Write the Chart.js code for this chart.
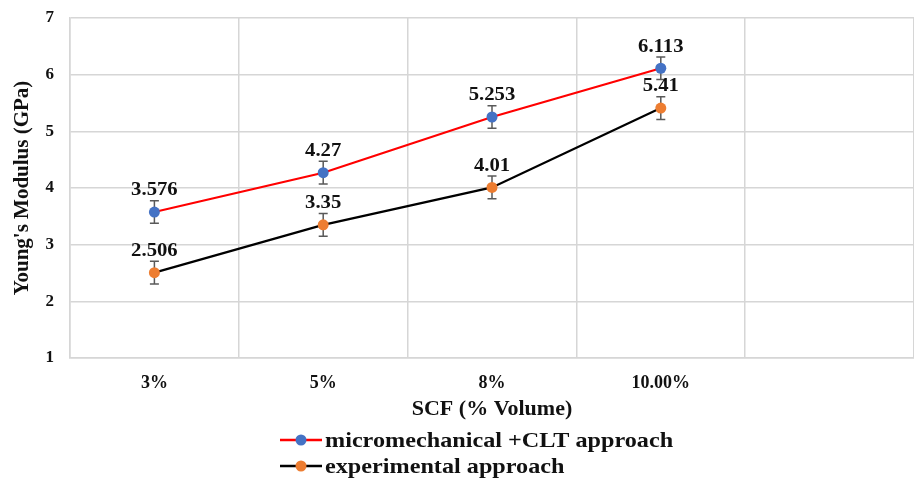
<!DOCTYPE html>
<html>
<head>
<meta charset="utf-8">
<script src="https://cdn.jsdelivr.net/npm/chart.js@4/dist/chart.umd.min.js"></script>
<style>
  html, body { margin: 0; padding: 0; background: #ffffff; overflow: hidden; }
  #wrap { width: 914px; height: 480px; position: relative; }
  canvas { display: block; }
</style>
</head>
<body>
<div id="wrap"><canvas id="c" width="914" height="480"></canvas></div>
<script>
// Fibre volume fractions (the fifth slot is left empty on the axis)
const categories = ['3%', '5%', '8%', '10.00%', ''];
// Young's modulus in GPa
const micromechanicalCLT = [3.576, 4.27, 5.253, 6.113];
const experimental = [2.506, 3.35, 4.01, 5.41];
// Error bar half-widths (GPa)
const micromechanicalErr = [0.2, 0.2, 0.2, 0.2];
const experimentalErr = [0.2, 0.2, 0.2, 0.2];
// Y axis range
const yTicksMin = 1;
const yTicksMax = 7;

const SERIF = "'Liberation Serif', 'Times New Roman', serif";

// Draws text slightly widened horizontally
function wideText(ctx, text, x, y, align, stretch) {
  ctx.save();
  ctx.translate(x, y);
  ctx.scale(stretch, 1);
  ctx.textAlign = align;
  ctx.fillText(text, 0, 0);
  ctx.restore();
}

// Error bars and value labels drawn from the datasets through the scales
const errorBarPlugin = {
  id: 'errorBars',
  beforeDatasetsDraw(chart) {
    const ctx = chart.ctx;
    const y = chart.scales.y;
    chart.data.datasets.forEach((ds, i) => {
      const meta = chart.getDatasetMeta(i);
      meta.data.forEach((pt, j) => {
        const v = ds.data[j];
        const e = ds.errors[j];
        const yTop = y.getPixelForValue(v + e);
        const yBot = y.getPixelForValue(v - e);
        ctx.save();
        ctx.strokeStyle = '#595959';
        ctx.lineWidth = 1.5;
        ctx.beginPath();
        ctx.moveTo(pt.x, yTop); ctx.lineTo(pt.x, yBot);
        ctx.moveTo(pt.x - 4.5, yTop); ctx.lineTo(pt.x + 4.5, yTop);
        ctx.moveTo(pt.x - 4.5, yBot); ctx.lineTo(pt.x + 4.5, yBot);
        ctx.stroke();
        ctx.restore();
      });
    });
  },
  afterDatasetsDraw(chart) {
    const ctx = chart.ctx;
    const y = chart.scales.y;
    chart.data.datasets.forEach((ds, i) => {
      const meta = chart.getDatasetMeta(i);
      meta.data.forEach((pt, j) => {
        const v = ds.data[j];
        const e = ds.errors[j];
        const yTop = y.getPixelForValue(v + e);
        ctx.save();
        ctx.fillStyle = '#111111';
        ctx.font = 'bold 18px ' + SERIF;
        ctx.textBaseline = 'middle';
        wideText(ctx, String(v), pt.x, yTop - 10, 'center', 1.15);
        ctx.restore();
      });
    });
  }
};

// Legend: two stacked rows, each with a line-and-dot swatch
const stackedLegend = {
  id: 'stackedLegend',
  afterDraw(chart) {
    const ctx = chart.ctx;
    const x0 = 280;
    const rows = [440, 466];
    chart.data.datasets.forEach((ds, i) => {
      const yy = rows[i];
      ctx.save();
      ctx.strokeStyle = ds.borderColor;
      ctx.lineWidth = 2.5;
      ctx.beginPath();
      ctx.moveTo(x0, yy); ctx.lineTo(x0 + 42, yy);
      ctx.stroke();
      ctx.fillStyle = ds.pointBackgroundColor;
      ctx.beginPath();
      ctx.arc(x0 + 21, yy, 5.5, 0, Math.PI * 2);
      ctx.fill();
      ctx.fillStyle = '#111111';
      ctx.font = 'bold 22px ' + SERIF;
      ctx.textBaseline = 'middle';
      wideText(ctx, ds.label, x0 + 45, yy + 1, 'left', 1.1);
      ctx.restore();
    });
  }
};

new Chart(document.getElementById('c'), {
  type: 'line',
  data: {
    labels: categories,
    datasets: [
      {
        label: 'micromechanical +CLT approach',
        data: micromechanicalCLT,
        errors: micromechanicalErr,
        borderColor: '#ff0000',
        borderWidth: 2.2,
        pointBackgroundColor: '#4472c4',
        pointBorderColor: '#4472c4',
        pointRadius: 5.5,
        pointBorderWidth: 0,
        tension: 0
      },
      {
        label: 'experimental approach',
        data: experimental,
        errors: experimentalErr,
        borderColor: '#000000',
        borderWidth: 2.2,
        pointBackgroundColor: '#ed7d31',
        pointBorderColor: '#ed7d31',
        pointRadius: 5.5,
        pointBorderWidth: 0,
        tension: 0
      }
    ]
  },
  options: {
    responsive: false,
    animation: false,
    layout: { autoPadding: false, padding: { top: 18, right: 0, bottom: 57, left: 0 } },
    plugins: {
      legend: { display: false },
      tooltip: { enabled: false }
    },
    scales: {
      x: {
        type: 'category',
        offset: true,
        grid: { offset: true, color: '#d6d6d6', lineWidth: 1.5, drawTicks: false },
        border: { display: true, color: '#d6d6d6', width: 1.5 },
        ticks: {
          padding: 15,
          color: '#111111',
          font: { family: SERIF, size: 18, weight: 'bold' }
        },
        title: {
          display: true,
          text: 'SCF (% Volume)',
          color: '#111111',
          padding: { top: 0, bottom: 0 },
          font: { family: SERIF, size: 22, weight: 'bold' }
        },
        afterFit(scale) {
          scale.height = 65;
          scale.paddingLeft = 0;
          scale.paddingRight = 0;
        }
      },
      y: {
        min: yTicksMin,
        max: yTicksMax,
        ticks: {
          stepSize: 1,
          padding: 16,
          color: '#111111',
          font: { family: SERIF, size: 17, weight: 'bold' }
        },
        grid: { color: '#d6d6d6', lineWidth: 1.5, drawTicks: false },
        border: { display: true, color: '#d6d6d6', width: 1.5 },
        title: {
          display: true,
          text: "Young's Modulus (GPa)",
          color: '#111111',
          padding: { top: 10, bottom: 0 },
          font: { family: SERIF, size: 21, weight: 'bold' }
        },
        afterFit(scale) {
          scale.width = 70;
          scale.paddingTop = 0;
          scale.paddingBottom = 0;
        }
      }
    }
  },
  plugins: [errorBarPlugin, stackedLegend]
});
</script>
</body>
</html>
